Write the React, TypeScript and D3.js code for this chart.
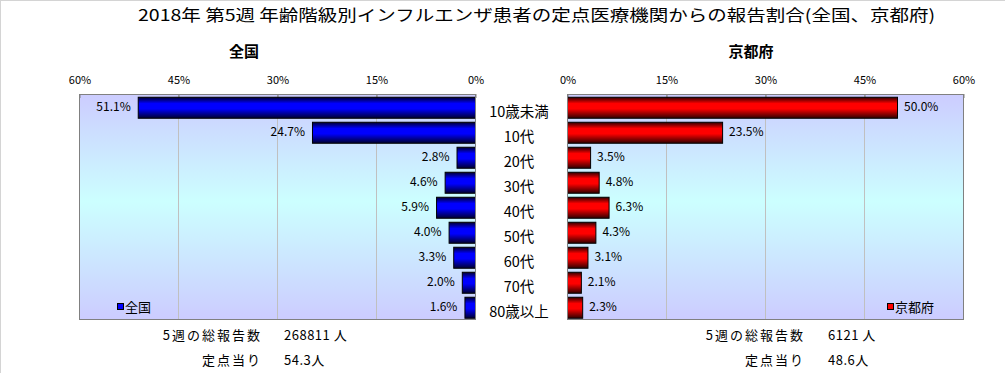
import React, { useEffect, useRef } from 'react';
import * as d3 from 'd3';

// data
const categories = ['10歳未満', '10代', '20代', '30代', '40代', '50代', '60代', '70代', '80歳以上'];
const zenkokuValues = [51.1, 24.7, 2.8, 4.6, 5.9, 4.0, 3.3, 2.0, 1.6];
const kyotoValues = [50.0, 23.5, 3.5, 4.8, 6.3, 4.3, 3.1, 2.1, 2.3];
const tickValues = [0, 15, 30, 45, 60];
const titleText = '2018年 第5週 年齢階級別インフルエンザ患者の定点医療機関からの報告割合(全国、京都府)';
const zenkokuSummary = ['268811 人', '54.3人'];
const kyotoSummary = ['6121 人', '48.6人'];
const summaryLabels = ['5週の総報告数', '定点当り'];

const FONT = '"Noto Sans CJK JP", "Noto Sans", sans-serif';

const App: React.FC = () => {
    const svgRef = useRef<SVGSVGElement | null>(null);

    useEffect(() => {
        document.body.style.margin = '0';
        if (!svgRef.current) return;
        const svg = d3.select(svgRef.current);
        svg.selectAll('*').remove();

        const plotTop = 94;
        const plotBottom = 319;
        const left = { x0: 79, x1: 475 };
        const right = { x0: 567, x1: 963 };

        const defs = svg.append('defs');

        // background gradient of the plot areas
        const bg = defs.append('linearGradient').attr('id', 'bgGrad')
            .attr('x1', 0).attr('y1', 0).attr('x2', 0).attr('y2', 1);
        bg.append('stop').attr('offset', '0%').attr('stop-color', '#ccccff');
        bg.append('stop').attr('offset', '48%').attr('stop-color', '#ccffff');
        bg.append('stop').attr('offset', '100%').attr('stop-color', '#ccccff');

        const makeBarGrad = (id: string, dark: string, bright: string) => {
            const g = defs.append('linearGradient').attr('id', id)
                .attr('x1', 0).attr('y1', 0).attr('x2', 0).attr('y2', 1);
            g.append('stop').attr('offset', '0%').attr('stop-color', dark);
            g.append('stop').attr('offset', '30%').attr('stop-color', bright);
            g.append('stop').attr('offset', '55%').attr('stop-color', bright);
            g.append('stop').attr('offset', '100%').attr('stop-color', dark);
        };
        makeBarGrad('blueGrad', '#000030', '#0000ff');
        makeBarGrad('redGrad', '#300000', '#ff0000');

        // outer edge lines
        svg.append('line').attr('x1', 0).attr('x2', 1005).attr('y1', 0.5).attr('y2', 0.5)
            .style('stroke', '#d4d4d4');
        svg.append('line').attr('x1', 0.5).attr('x2', 0.5).attr('y1', 0).attr('y2', 373)
            .style('stroke', '#d4d4d4');

        // title
        svg.append('text')
            .attr('x', 138).attr('y', 21)
            .attr('textLength', 797).attr('lengthAdjust', 'spacingAndGlyphs')
            .style('font-family', FONT).style('font-size', '16px')
            .text(titleText);

        const y = d3.scaleBand<string>().domain(categories).range([plotTop, plotBottom]);
        const barH = y.bandwidth() * 0.84;
        const barOff = y.bandwidth() * 0.11;

        const panels = [
            { name: '全国', values: zenkokuValues, x: d3.scaleLinear().domain([60, 0]).range([left.x0, left.x1]),
              box: left, grad: 'blueGrad', fill: '#0000ff', titleX: 244, legendX: 117, summary: zenkokuSummary, labelRight: 262, valueLeft: 284, mirror: true },
            { name: '京都府', values: kyotoValues, x: d3.scaleLinear().domain([0, 60]).range([right.x0, right.x1]),
              box: right, grad: 'redGrad', fill: '#ff0000', titleX: 751, legendX: 887, summary: kyotoSummary, labelRight: 805, valueLeft: 828, mirror: false },
        ];

        panels.forEach((p) => {
            const g = svg.append('g');
            const w = p.box.x1 - p.box.x0;

            g.append('text')
                .attr('x', p.titleX).attr('y', 57)
                .attr('text-anchor', 'middle')
                .style('font-family', FONT).style('font-size', '15px').style('font-weight', 'bold')
                .text(p.name);

            g.append('rect')
                .attr('x', p.box.x0).attr('y', plotTop)
                .attr('width', w).attr('height', plotBottom - plotTop)
                .style('fill', 'url(#bgGrad)');

            // grid lines
            g.selectAll('line.grid')
                .data(tickValues.filter((t) => t !== 0 && t !== 60))
                .enter()
                .append('line')
                .attr('class', 'grid')
                .attr('x1', (d) => p.x(d) + 0.5).attr('x2', (d) => p.x(d) + 0.5)
                .attr('y1', plotTop).attr('y2', plotBottom)
                .style('stroke', '#c0c0c0');

            // axis
            const axis = d3.axisTop(p.x)
                .tickValues(tickValues)
                .tickFormat((d) => `${d}%`)
                .tickSizeInner(-4)
                .tickSizeOuter(0)
                .tickPadding(10);
            const ag = g.append('g')
                .attr('transform', `translate(0.5, ${plotTop})`)
                .call(axis);
            ag.select('.domain').remove();
            ag.selectAll('line').style('stroke', '#808080');
            ag.selectAll('text')
                .style('font-family', FONT).style('font-size', '11px').style('fill', '#000');

            // bars
            g.selectAll('rect.bar')
                .data(p.values)
                .enter()
                .append('rect')
                .attr('class', 'bar')
                .attr('x', (d) => (p.mirror ? p.x(d) : p.x(0)) + 0.5)
                .attr('y', (d, i) => (y(categories[i]) as number) + barOff + 0.5)
                .attr('width', (d) => Math.abs(p.x(d) - p.x(0)))
                .attr('height', barH)
                .style('fill', `url(#${p.grad})`)
                .style('stroke', '#000')
                .style('stroke-width', '1px');

            // value labels
            g.selectAll('text.val')
                .data(p.values)
                .enter()
                .append('text')
                .attr('class', 'val')
                .attr('x', (d) => (p.mirror ? p.x(d) - 7 : p.x(d) + 7))
                .attr('y', (d, i) => (y(categories[i]) as number) + barOff + barH / 2 + 4)
                .attr('text-anchor', p.mirror ? 'end' : 'start')
                .style('font-family', FONT).style('font-size', '12px')
                .text((d) => `${d.toFixed(1)}%`);

            // plot border
            g.append('rect')
                .attr('x', p.box.x0 + 0.5).attr('y', plotTop + 0.5)
                .attr('width', w).attr('height', plotBottom - plotTop)
                .style('fill', 'none').style('stroke', '#808080');

            // legend
            g.append('rect')
                .attr('x', p.legendX + 0.5).attr('y', 303.5)
                .attr('width', 6).attr('height', 6)
                .style('fill', p.fill).style('stroke', '#000');
            g.append('text')
                .attr('x', p.legendX + 8).attr('y', 312)
                .style('font-family', FONT).style('font-size', '13px')
                .text(p.name);

            // summary lines
            summaryLabels.forEach((lab, i) => {
                const ty = 340 + i * 25;
                g.append('text')
                    .attr('x', p.labelRight).attr('y', ty)
                    .attr('text-anchor', 'end')
                    .style('font-family', FONT).style('font-size', '13px')
                    .style('letter-spacing', '2px')
                    .text(lab);
                g.append('text')
                    .attr('x', p.valueLeft).attr('y', ty)
                    .style('font-family', FONT).style('font-size', '13px')
                    .style('letter-spacing', '0.5px')
                    .text(p.summary[i]);
            });
        });

        // category labels between the two panels
        svg.selectAll('text.cat')
            .data(categories)
            .enter()
            .append('text')
            .attr('class', 'cat')
            .attr('x', 519)
            .attr('y', (d) => (y(d) as number) + y.bandwidth() / 2 + 10)
            .attr('text-anchor', 'middle')
            .style('font-family', FONT).style('font-size', '14.5px')
            .text((d) => d);
    }, []);

    return <svg ref={svgRef} width={1006} height={373} style={{ display: 'block' }} />;
};

export default App;
